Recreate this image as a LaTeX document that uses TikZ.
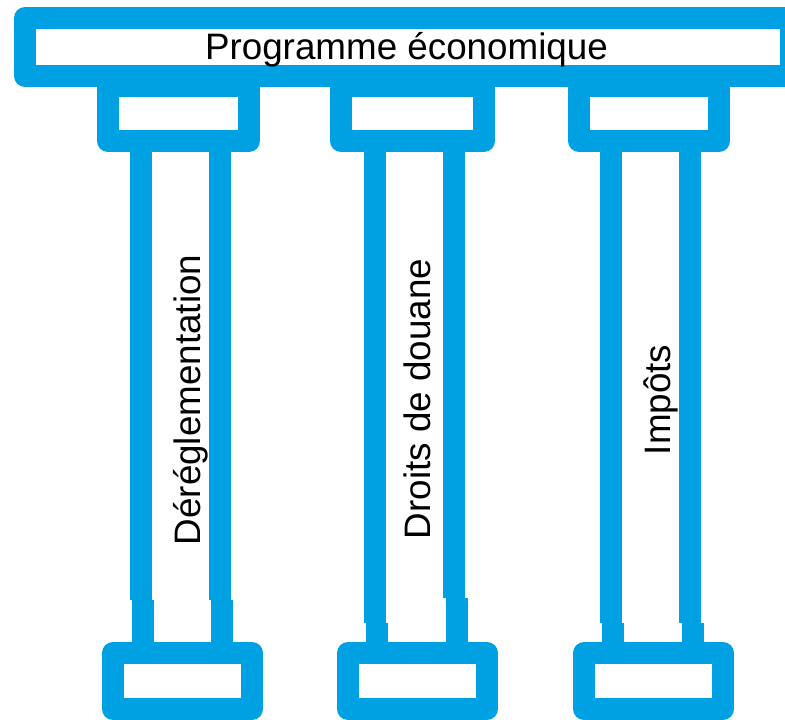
\documentclass[tikz,border=0pt]{standalone}
\usepackage{fontspec}
\setmainfont{Liberation Sans}
\definecolor{pillarblue}{RGB}{0,161,226}
\begin{document}
\begin{tikzpicture}[x=1pt,y=-1pt,
  outline/.style={draw=pillarblue,line width=22pt,line join=round},
  shaft/.style={draw=pillarblue,line width=22pt,line cap=butt},
  pillartext/.style={font=\fontsize{36.8}{44}\selectfont,inner sep=0pt,anchor=base,text=black}]
\useasboundingbox (0,0) rectangle (785,720);
\clip (0,0) rectangle (785,720);

% entablature
\draw[outline] (25,18) rectangle (791,76);

% capitals
\draw[outline] (108,86) rectangle (249,141);
\draw[outline] (341,86) rectangle (484,141);
\draw[outline] (579,86) rectangle (719,141);

% bases
\draw[outline] (113,653) rectangle (252,709);
\draw[outline] (348,653) rectangle (487,709);
\draw[outline] (584,653) rectangle (723,709);

% shafts: upper part, then a slightly offset lower part
\foreach \xu/\xl/\yj in {141/143/600, 220/221.5/600,
                         375/377/623, 454/456.5/598,
                         611/613/623, 690/693/623}{
  \draw[shaft] (\xu,141) -- (\xu,\yj);
  \draw[shaft] (\xl,\yj) -- (\xl,653);
}

% texts
\node[pillartext] (title) at (406.5,59) {Programme économique};
\node[pillartext,rotate=90] (dereg) at (200,400) {Déréglementation};
\node[pillartext,rotate=90] (douane) at (430,399) {Droits de douane};
\node[pillartext,rotate=90] (impots) at (670,400) {Impôts};
\end{tikzpicture}
\end{document}
